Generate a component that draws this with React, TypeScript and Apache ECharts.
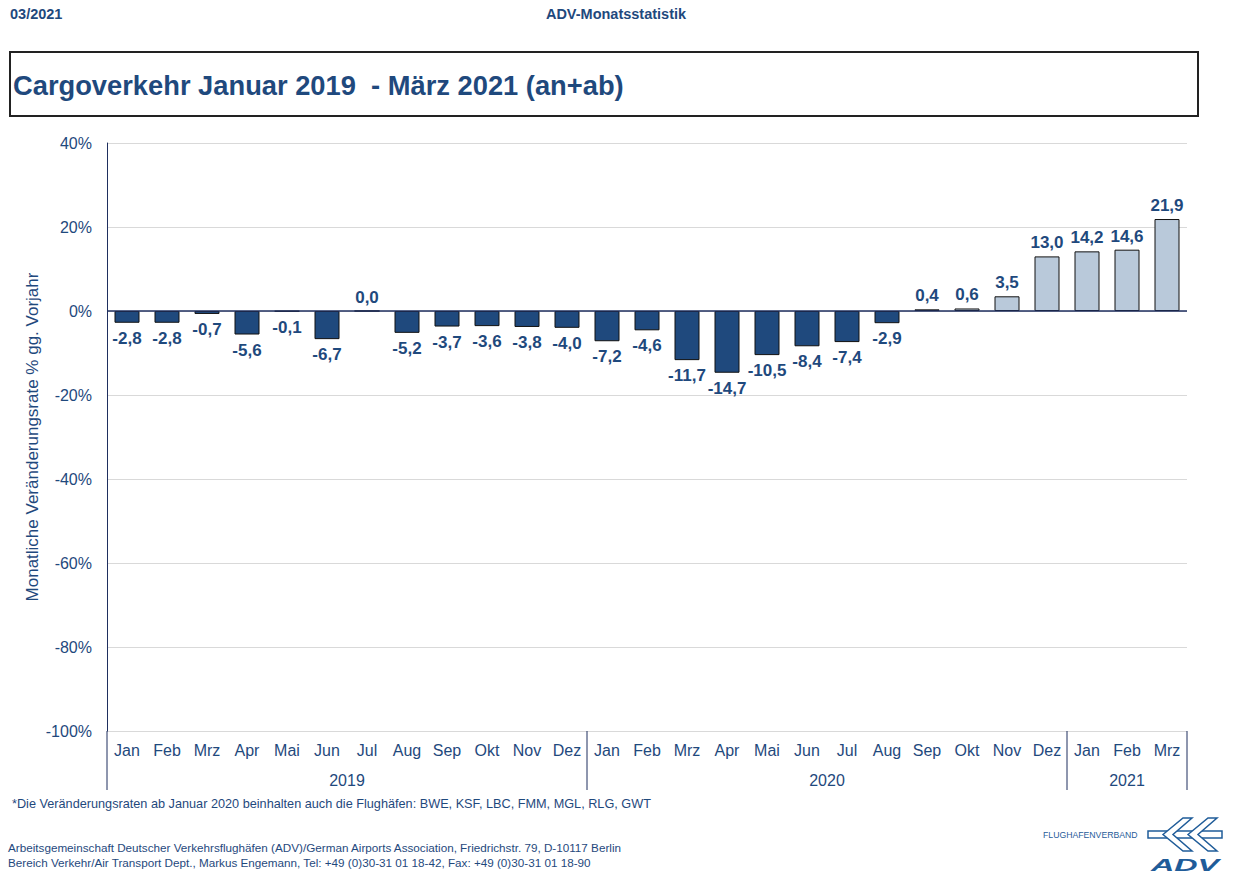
import React, { useEffect, useRef } from "react";
import * as echarts from "echarts";

const months = ["Jan", "Feb", "Mrz", "Apr", "Mai", "Jun", "Jul", "Aug", "Sep", "Okt", "Nov", "Dez",
  "Jan", "Feb", "Mrz", "Apr", "Mai", "Jun", "Jul", "Aug", "Sep", "Okt", "Nov", "Dez",
  "Jan", "Feb", "Mrz"];
const values = [-2.8, -2.8, -0.7, -5.6, -0.1, -6.7, 0.0, -5.2, -3.7, -3.6, -3.8, -4.0,
  -7.2, -4.6, -11.7, -14.7, -10.5, -8.4, -7.4, -2.9, 0.4, 0.6, 3.5, 13.0,
  14.2, 14.6, 21.9];
// number of months per year group
const years = ["2019", "2020", "2021"];
const yearCounts = [12, 12, 3];
// first index drawn in the light colour (from Sep 2020)
const firstLightIndex = 20;
const yTicks = { min: -100, max: 40, interval: 20 };

const NAVY = "#1F497D";
const TEXT = "#1F497D";
const LIGHT = "#B9C9DA";
const FONT = "'Liberation Sans', Arial, sans-serif";

export default function App() {
  const ref = useRef<HTMLDivElement>(null);
  useEffect(() => {
    const chart = echarts.init(ref.current!, null, { renderer: "svg" });
    const fmt = (v: number) => v.toFixed(1).replace(".", ",");
    const option: any = {
      animation: false,
      backgroundColor: "#ffffff",
      textStyle: { fontFamily: FONT },
      grid: { left: 107, right: 49, top: 143, bottom: 145 },
      xAxis: {
        type: "category",
        data: months,
        position: "bottom",
        axisLine: { show: false, onZero: false },
        axisTick: { show: false },
        axisLabel: { color: TEXT, fontSize: 16, margin: 11, fontFamily: FONT, interval: 0 },
      },
      yAxis: {
        type: "value",
        min: yTicks.min,
        max: yTicks.max,
        interval: yTicks.interval,
        name: "Monatliche Veränderungsrate % gg. Vorjahr",
        nameLocation: "middle",
        nameGap: 66,
        nameMoveOverlap: false,
        nameTextStyle: { color: TEXT, fontSize: 17, fontFamily: FONT },
        axisLine: { show: true, lineStyle: { color: "#1F2F5F", width: 1 } },
        axisTick: { show: false },
        axisLabel: { color: TEXT, fontSize: 16, margin: 15, fontFamily: FONT, formatter: (v: number) => `${v}%` },
        splitLine: { show: true, lineStyle: { color: "#D9D9D9", width: 1 } },
      },
      series: [
        {
          type: "bar",
          barWidth: 25,
          data: values.map((v, i) => ({
            value: v,
            itemStyle: {
              color: i >= firstLightIndex ? LIGHT : NAVY,
              borderColor: "#111111",
              borderWidth: 1,
            },
            label: {
              show: true,
              position: v >= 0 ? "top" : "bottom",
              distance: v >= 0 ? 5 : 7,
              color: TEXT,
              fontSize: 17,
              fontWeight: "bold",
              fontFamily: FONT,
              formatter: () => fmt(v),
            },
          })),
          markLine: {
            silent: true,
            symbol: "none",
            label: { show: false },
            lineStyle: { color: "#1F2F5F", width: 1.5, type: "solid" },
            data: [{ yAxis: 0 }],
          },
        },
      ],
    };
    chart.setOption(option);

    // year grouping separators and labels, positioned from the category axis
    const c0 = chart.convertToPixel({ xAxisIndex: 0 }, 0) as number;
    const c1 = chart.convertToPixel({ xAxisIndex: 0 }, 1) as number;
    const half = (c1 - c0) / 2;
    const yBottom = chart.convertToPixel({ yAxisIndex: 0 }, yTicks.min) as number;
    const graphics: any[] = [];
    let start = 0;
    const bounds: number[] = [c0 - half];
    years.forEach((y, k) => {
      const end = start + yearCounts[k] - 1;
      const xs = (chart.convertToPixel({ xAxisIndex: 0 }, start) as number) - half;
      const xe = (chart.convertToPixel({ xAxisIndex: 0 }, end) as number) + half;
      bounds.push(xe);
      graphics.push({
        type: "text",
        x: (xs + xe) / 2,
        y: yBottom + 49,
        style: { text: y, fill: TEXT, font: `16px ${FONT}`, align: "center", verticalAlign: "middle" },
      });
      start = end + 1;
    });
    bounds.forEach((bx) => {
      graphics.push({
        type: "line",
        shape: { x1: bx, y1: yBottom, x2: bx, y2: yBottom + 59 },
        style: { stroke: "#1F2F5F", lineWidth: 1 },
      });
    });

    // header, title box, footnotes, logo
    graphics.push(
      { type: "text", x: 10, y: 14, style: { text: "03/2021", fill: TEXT, font: `bold 14.5px ${FONT}`, verticalAlign: "middle" } },
      { type: "text", x: 616, y: 14, style: { text: "ADV-Monatsstatistik", fill: TEXT, font: `bold 14.5px ${FONT}`, align: "center", verticalAlign: "middle" } },
      { type: "rect", shape: { x: 10, y: 52, width: 1188, height: 64 }, style: { fill: "none", stroke: "#222222", lineWidth: 2 } },
      { type: "text", x: 13, y: 85, style: { text: "Cargoverkehr Januar 2019  - März 2021 (an+ab)", fill: TEXT, font: `bold 27.3px ${FONT}`, verticalAlign: "middle" } },
      { type: "text", x: 12, y: 804, style: { text: "*Die Veränderungsraten ab Januar 2020 beinhalten auch die Flughäfen: BWE, KSF, LBC, FMM, MGL, RLG, GWT", fill: TEXT, font: `12.7px ${FONT}`, verticalAlign: "middle" } },
      { type: "text", x: 8, y: 847, style: { text: "Arbeitsgemeinschaft Deutscher Verkehrsflughäfen (ADV)/German Airports Association, Friedrichstr. 79, D-10117 Berlin", fill: TEXT, font: `11.7px ${FONT}`, verticalAlign: "middle" } },
      { type: "text", x: 8, y: 862, style: { text: "Bereich Verkehr/Air Transport Dept., Markus Engemann, Tel: +49 (0)30-31 01 18-42, Fax: +49 (0)30-31 01 18-90", fill: TEXT, font: `11.7px ${FONT}`, verticalAlign: "middle" } },
      { type: "text", x: 1043, y: 835, style: { text: "FLUGHAFENVERBAND", fill: "#1F5C99", font: `8.7px ${FONT}`, verticalAlign: "middle" } },
      { type: "rect", shape: { x: 1148, y: 831, width: 74, height: 7 }, style: { fill: "#ffffff", stroke: "#1F5C99", lineWidth: 1.5 } },
      { type: "polygon", shape: { points: [[1163, 834.5], [1183, 818], [1192, 818], [1173, 834.5], [1192, 851], [1183, 851]] }, style: { fill: "#ffffff", stroke: "#1F5C99", lineWidth: 1.5 } },
      { type: "polygon", shape: { points: [[1188, 834.5], [1208, 818], [1217, 818], [1198, 834.5], [1217, 851], [1208, 851]] }, style: { fill: "#ffffff", stroke: "#1F5C99", lineWidth: 1.5 } },
      { type: "text", x: 1185, y: 857, scaleX: 1.9, style: { text: "ADV", fill: "#1F5C99", font: `italic 900 17px ${FONT}`, align: "center", verticalAlign: "top" } },
    );
    chart.setOption({ graphic: graphics });
    return () => chart.dispose();
  }, []);
  return <div ref={ref} style={{ position: "fixed", left: 0, top: 0, width: 1236, height: 876 }} />;
}
